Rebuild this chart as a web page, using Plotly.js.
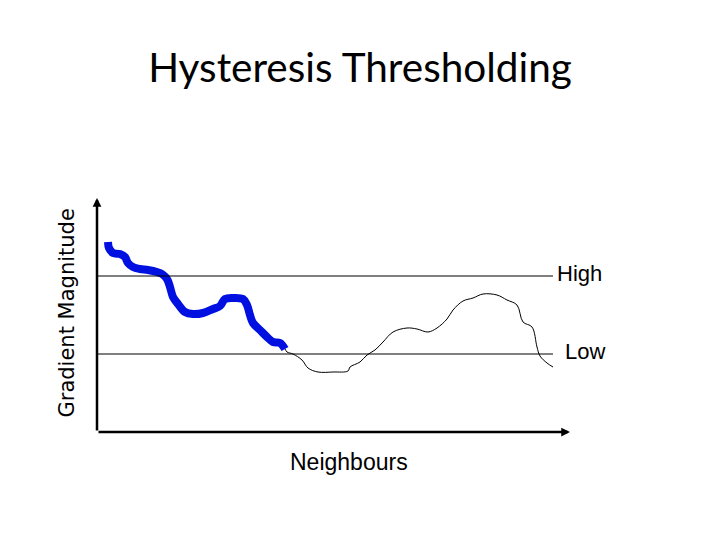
<!DOCTYPE html>
<html>
<head>
<meta charset="utf-8">
<script src="https://cdn.plot.ly/plotly-3.0.1.min.js"></script>
<style>html,body{margin:0;padding:0;background:#fff;}#chart{width:720px;height:540px;}</style>
</head>
<body>
<div id="chart"></div>
<script>
// Strong edge (above High, followed while above Low)
const strongX = [11, 12, 16, 23, 28, 31, 36, 43, 51, 60, 65, 70, 73, 76, 81, 88, 96, 106, 116, 123, 128, 136, 146, 150, 153, 156, 163, 170, 176, 183, 188];
const strongY = [190, 184, 179, 178, 175, 169, 165, 163, 162, 160, 158, 153, 145, 135, 128, 120, 118, 119, 123, 126, 133, 134, 133, 127, 117, 109, 102, 95, 90, 89, 83];
// Full gradient magnitude profile continuation
const restX = [190, 196, 205, 211, 221, 236, 251, 253, 263, 270, 278, 286, 296, 310, 320, 331, 340, 350, 356, 366, 376, 386, 400, 410, 420, 426, 435, 440, 443, 450, 456];
const restY = [80, 78, 72, 64, 60, 60, 61, 65, 70, 77, 82, 90, 100, 104, 103, 100, 104, 113, 122, 131, 134, 138, 137, 132, 127, 110, 105, 85, 76, 69, 65];
const profileX = strongX.concat(restX);
const profileY = strongY.concat(restY);
// Thresholds
const thresholdNames = ["High", "Low"];
const thresholdValues = [156, 78];
const thresholdEnd = 456;
const xMax = 473, yMax = 237;

const traces = [
  {x: profileX, y: profileY, type: 'scatter', mode: 'lines',
   line: {color: '#000', width: 1, shape: 'spline'}, hoverinfo: 'skip', cliponaxis: false},
  {x: strongX, y: strongY, type: 'scatter', mode: 'lines',
   line: {color: '#0010e0', width: 8, shape: 'spline'}, hoverinfo: 'skip', cliponaxis: false}
];

const shapes = thresholdValues.map(v => ({
  type: 'line', xref: 'x', yref: 'y', x0: 0, x1: thresholdEnd, y0: v, y1: v,
  line: {color: '#000', width: 1}
}));

const labelOffsets = [{dx: 2, dy: 3}, {dx: 10, dy: 3}];
const annotations = thresholdNames.map((n, i) => ({
  x: thresholdEnd + labelOffsets[i].dx, y: thresholdValues[i] + labelOffsets[i].dy,
  xref: 'x', yref: 'y', text: n, showarrow: false, xanchor: 'left', yanchor: 'middle',
  font: {family: 'Liberation Sans, Arial, sans-serif', size: 22, color: '#000'}
}));
// axes arrows
annotations.push({x: 0, y: yMax - 3, ax: 0, ay: 0, xref: 'x', yref: 'y', axref: 'x', ayref: 'y',
  text: '', showarrow: true, arrowhead: 2, arrowsize: 0.7, arrowwidth: 2.5, arrowcolor: '#000'});
annotations.push({x: xMax, y: 0, ax: 0, ay: 0, xref: 'x', yref: 'y', axref: 'x', ayref: 'y',
  text: '', showarrow: true, arrowhead: 2, arrowsize: 0.7, arrowwidth: 2.5, arrowcolor: '#000'});
annotations.push({x: -31 / xMax, y: 0.5, xref: 'paper', yref: 'paper', text: 'Gradient Magnitude',
  textangle: -90, showarrow: false, xanchor: 'center', yanchor: 'middle',
  font: {family: 'DejaVu Sans, Verdana, sans-serif', size: 21, color: '#000'}});
annotations.push({x: 252 / xMax, y: -30 / yMax, xref: 'paper', yref: 'paper', text: 'Neighbours',
  showarrow: false, xanchor: 'center', yanchor: 'middle',
  font: {family: 'Liberation Sans, Arial, sans-serif', size: 23, color: '#000'}});

const layout = {
  width: 720, height: 540,
  margin: {l: 97, r: 150, t: 195, b: 108},
  paper_bgcolor: '#fff', plot_bgcolor: '#fff',
  showlegend: false,
  title: {text: 'Hysteresis Thresholding', x: 360 / 720, xref: 'container', xanchor: 'center',
          y: 1 - 68 / 540, yanchor: 'middle', yref: 'container',
          font: {family: 'Lato, Carlito, sans-serif', size: 40.5, color: '#000'}},
  xaxis: {range: [0, xMax], showgrid: false, zeroline: false, showticklabels: false, ticks: '', showline: false, fixedrange: true},
  yaxis: {range: [0, yMax], showgrid: false, zeroline: false, showticklabels: false, ticks: '', showline: false, fixedrange: true},
  shapes: shapes,
  annotations: annotations
};
Plotly.newPlot('chart', traces, layout, {displayModeBar: false, staticPlot: true});
</script>
</body>
</html>
